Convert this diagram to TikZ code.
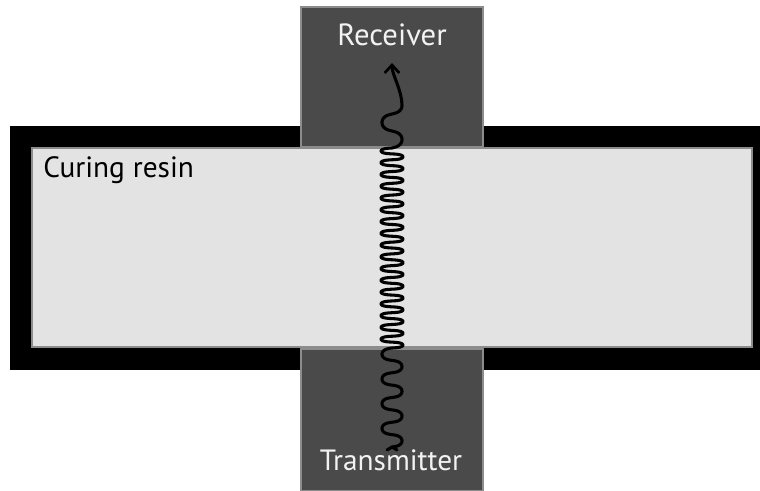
\documentclass[tikz,border=0pt]{standalone}
\usepackage{fontspec}
\setmainfont{PT Sans}
\usetikzlibrary{arrows.meta}
\definecolor{devgray}{HTML}{4A4A4A}
\definecolor{resingray}{HTML}{E3E3E3}
\definecolor{edgegray}{HTML}{8C8C8C}
\definecolor{labelwhite}{HTML}{F2F2F2}
\begin{document}
\begin{tikzpicture}[x=0.75pt,y=-0.75pt,
  frame/.style={fill=black,draw=none,inner sep=0pt,outer sep=0pt},
  resin/.style={fill=resingray,draw=edgegray,line width=0.8pt,inner sep=0pt,outer sep=0pt},
  device/.style={fill=devgray,draw=edgegray,line width=0.8pt,inner sep=0pt,outer sep=0pt},
  devlabel/.style={text=labelwhite,inner sep=0pt,anchor=base},
  wave/.style={line width=2.3pt,black,line cap=round,line join=round}]
\useasboundingbox (0,0) rectangle (760,490);
\fill[white] (0,0) rectangle (760,490);
% black holder frame
\node[frame,minimum width=562.5pt,minimum height=183pt] (holder) at (385,248) {};
% resin
\node[resin,minimum width=540pt,minimum height=149.25pt] (resin) at (392,247.5) {};
\node[anchor=base west,font=\fontsize{22}{26}\selectfont,inner sep=0pt] (resinlabel) at (43,177) {Curing resin};
% devices
\node[device,minimum width=136.5pt,minimum height=105pt] (receiver) at (392,77) {};
\node[device,minimum width=136.5pt,minimum height=106.5pt] (transmitter) at (392,420) {};
\node[devlabel,font=\fontsize{23}{27}\selectfont] (rxlabel) at (392,45) {Receiver};
\node[devlabel,font=\fontsize{22}{26}\selectfont] (txlabel) at (391,470) {Transmitter};
% wave
\coordinate (wstart) at (392,447);
\coordinate (wtip) at (392,63);
\draw[wave] (387,450) -- (wstart) -- (397,450);
\draw[wave,-{Straight Barb[length=6pt,width=11pt,line width=2pt]}]
  (wstart)
  -- plot[domain=0:99,samples=160,smooth] ({392+10*sin(\x*14.5455)},{447-\x+1.3*sin(\x*29.091)})
  -- plot[domain=0:200,samples=500,smooth] ({392+11*sin(\x*30.6)},{348-\x+0.65*sin(\x*61.2)})
  -- plot[domain=0:42.5,samples=80,smooth] ({392+10*sin(\x*10.5882)},{148-\x+1.5*sin(\x*21.176)})
  .. controls (402,90) and (392,75) .. (wtip);
\end{tikzpicture}
\end{document}
